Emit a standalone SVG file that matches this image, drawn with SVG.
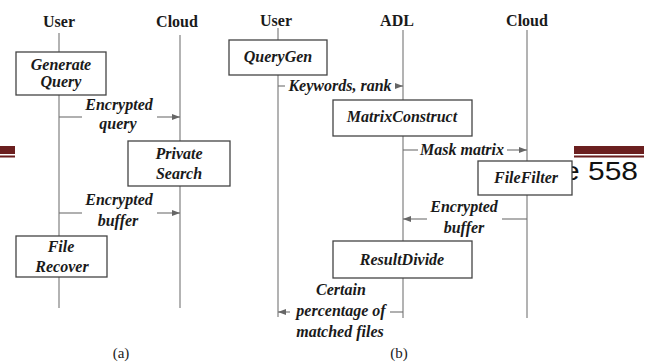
<svg xmlns="http://www.w3.org/2000/svg" width="658" height="364" viewBox="0 0 658 364">
<defs>
<marker id="ah" viewBox="0 0 8 6" refX="8" refY="3" markerWidth="8" markerHeight="6" markerUnits="userSpaceOnUse" orient="auto">
<path d="M0,0 L8,3 L0,6 Z" fill="#666"/>
</marker>
<style>
.hdr{font-family:"Liberation Serif","Times New Roman",serif;font-weight:bold;font-size:16px;fill:#1a1a1a;text-anchor:middle}
.lbl{font-family:"Liberation Serif","Times New Roman",serif;font-weight:bold;font-style:italic;font-size:16px;fill:#1a1a1a;text-anchor:middle}
.cap{font-family:"Liberation Serif","Times New Roman",serif;font-size:15px;fill:#222;text-anchor:middle}
.life{stroke:#8a8a8a;stroke-width:1.3;fill:none}
.conn{stroke:#707070;stroke-width:1.1;fill:none}
.box{fill:#fff;stroke:#444;stroke-width:1.3}
.bar{fill:#6b1f1f}
</style>
</defs>
<rect width="658" height="364" fill="#fff"/>

<!-- page decorations -->
<g id="page-deco">
<rect class="bar" x="0" y="146" width="15" height="8"/>
<rect class="bar" x="0" y="155.5" width="15" height="2"/>
<rect class="bar" x="574" y="146" width="70" height="8"/>
<rect class="bar" x="574" y="155.5" width="70" height="2"/>
<text x="638" y="180" text-anchor="end" font-family="'Liberation Sans',Arial,sans-serif" font-size="26" fill="#111" textLength="75" lengthAdjust="spacingAndGlyphs">e 558</text>
</g>

<!-- headers -->
<g id="headers">
<text class="hdr" x="59" y="27">User</text>
<text class="hdr" x="177" y="27">Cloud</text>
<text class="hdr" x="276" y="26">User</text>
<text class="hdr" x="397" y="26">ADL</text>
<text class="hdr" x="527" y="26">Cloud</text>
</g>

<!-- lifelines and connectors -->
<g id="connectors">
<line class="life" x1="59" y1="33" x2="59" y2="308"/>
<line class="life" x1="180" y1="35" x2="180" y2="308"/>
<line class="life" x1="278" y1="28" x2="278" y2="317"/>
<line class="life" x1="403" y1="30" x2="403" y2="318" stroke="#aaa"/>
<line class="life" x1="527" y1="30" x2="527" y2="318"/>

<!-- (a) Encrypted query -->
<line class="conn" x1="59" y1="117" x2="82" y2="117"/>
<line class="conn" x1="157" y1="117" x2="180" y2="117" marker-end="url(#ah)"/>
<!-- (a) Encrypted buffer -->
<line class="conn" x1="59" y1="213" x2="82" y2="213"/>
<line class="conn" x1="157" y1="213" x2="180" y2="213" marker-end="url(#ah)"/>

<!-- (b) Keywords, rank -->
<line class="conn" x1="278" y1="86" x2="285" y2="86"/>
<line class="conn" x1="395" y1="86" x2="403" y2="86" marker-end="url(#ah)"/>
<!-- (b) Mask matrix -->
<line class="conn" x1="403" y1="150" x2="418" y2="150"/>
<line class="conn" x1="507" y1="150" x2="527" y2="150" marker-end="url(#ah)"/>
<!-- (b) Encrypted buffer -->
<line class="conn" x1="527" y1="219" x2="502" y2="219"/>
<line class="conn" x1="427" y1="219" x2="403" y2="219" marker-end="url(#ah)"/>
<!-- (b) Certain percentage -->
<line class="conn" x1="403" y1="312" x2="390" y2="312"/>
<line class="conn" x1="290" y1="312" x2="278" y2="312" marker-end="url(#ah)"/>

<text class="lbl" x="119" y="110">Encrypted</text>
<text class="lbl" x="118" y="129">query</text>
<text class="lbl" x="119" y="205">Encrypted</text>
<text class="lbl" x="118" y="226">buffer</text>
<text class="lbl" x="340" y="91">Keywords, rank</text>
<text class="lbl" x="462" y="155">Mask matrix</text>
<text class="lbl" x="464" y="212">Encrypted</text>
<text class="lbl" x="464" y="233">buffer</text>
<text class="lbl" x="341" y="295">Certain</text>
<text class="lbl" x="341" y="316">percentage of</text>
<text class="lbl" x="340" y="337">matched files</text>
</g>

<!-- panel (a) nodes -->
<g id="generate-query">
<rect class="box" x="16" y="52" width="90" height="43"/>
<text class="lbl" x="61" y="70">Generate</text>
<text class="lbl" x="61" y="87">Query</text>
</g>
<g id="private-search">
<rect class="box" x="128" y="141" width="102" height="45"/>
<text class="lbl" x="179" y="159">Private</text>
<text class="lbl" x="179" y="179">Search</text>
</g>
<g id="file-recover">
<rect class="box" x="16" y="236" width="91" height="41"/>
<text class="lbl" x="61" y="252">File</text>
<text class="lbl" x="62" y="272">Recover</text>
</g>

<!-- panel (b) nodes -->
<g id="querygen">
<rect class="box" x="229" y="40" width="98" height="35"/>
<text class="lbl" x="278" y="62">QueryGen</text>
</g>
<g id="matrixconstruct">
<rect class="box" x="333" y="100" width="139" height="36"/>
<text class="lbl" x="402" y="122">MatrixConstruct</text>
</g>
<g id="filefilter">
<rect class="box" x="478" y="161" width="94" height="34"/>
<text class="lbl" x="526" y="183">FileFilter</text>
</g>
<g id="resultdivide">
<rect class="box" x="333" y="241" width="139" height="37"/>
<text class="lbl" x="402" y="265">ResultDivide</text>
</g>

<g id="captions">
<text class="cap" x="121" y="358">(a)</text>
<text class="cap" x="399" y="358">(b)</text>
</g>
</svg>
